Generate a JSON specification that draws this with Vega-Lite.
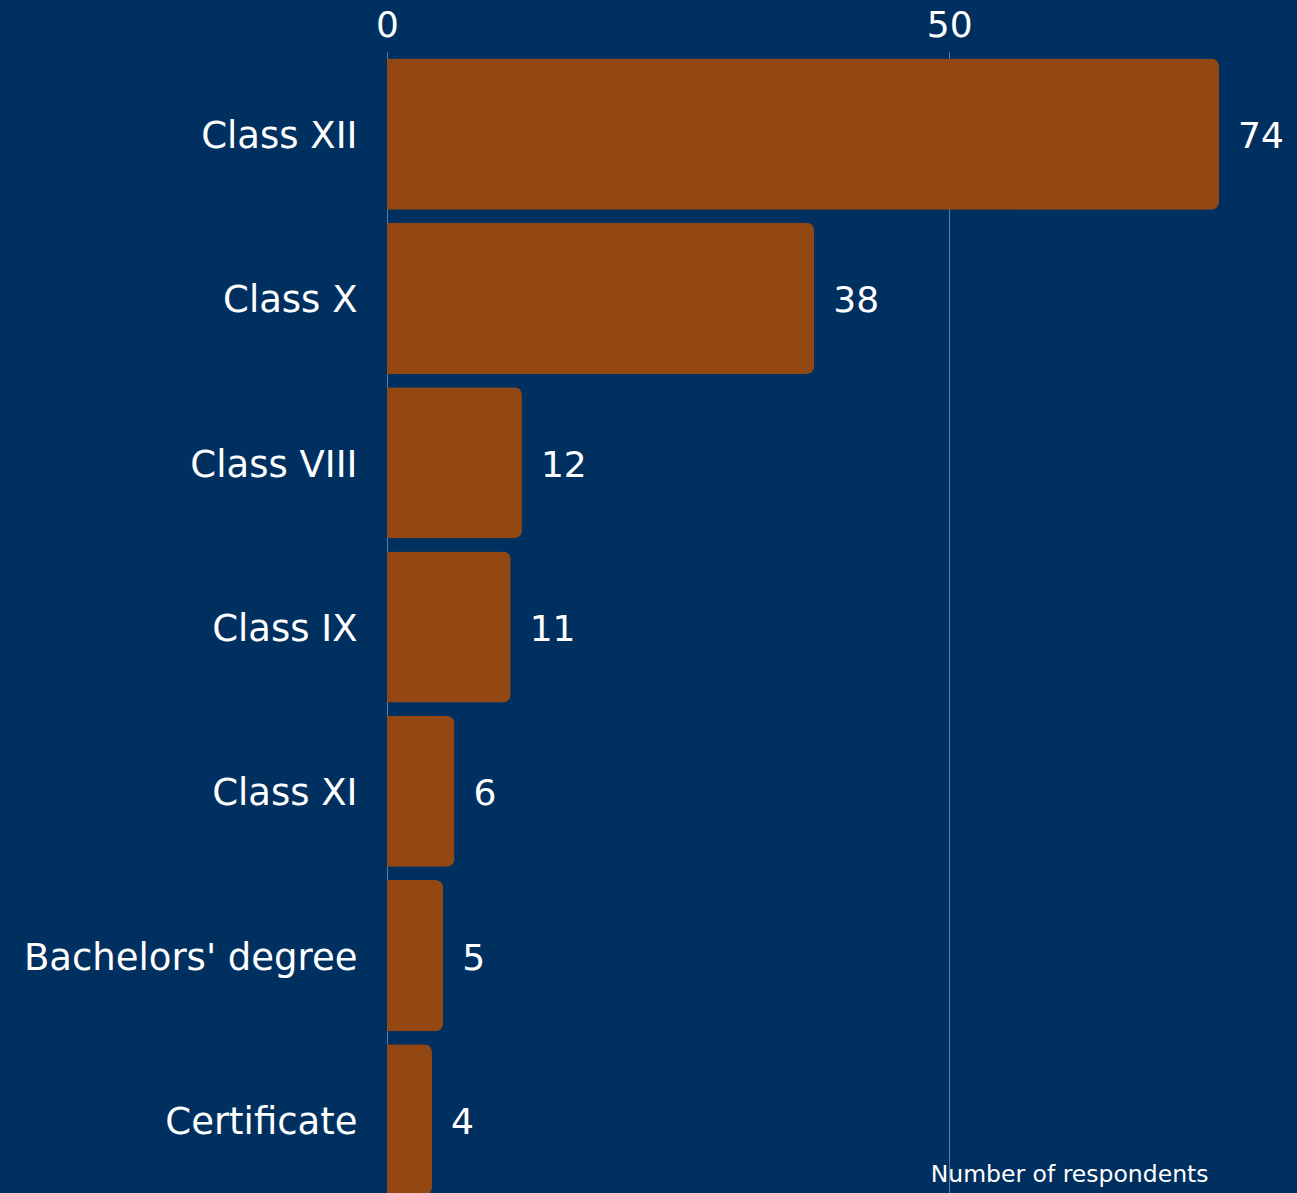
{
  "$schema": "https://vega.github.io/schema/vega-lite/v6.json",
  "autosize": {"type": "none"},
  "padding": {"left": 387, "top": 52, "right": 78, "bottom": 0},
  "width": 832,
  "height": 1150,
  "background": "#00305F",
  "config": {
    "view": {"stroke": null},
    "font": "DejaVu Sans"
  },
  "data": {
    "values": [
      {"level": "Class XII", "count": 74},
      {"level": "Class X", "count": 38},
      {"level": "Class VIII", "count": 12},
      {"level": "Class IX", "count": 11},
      {"level": "Class XI", "count": 6},
      {"level": "Bachelors' degree", "count": 5},
      {"level": "Certificate", "count": 4}
    ]
  },
  "encoding": {
    "y": {
      "field": "level",
      "type": "nominal",
      "sort": null,
      "scale": {"paddingInner": 0.08, "paddingOuter": 0.04},
      "axis": {
        "title": null,
        "domain": false,
        "ticks": false,
        "labelPadding": 30,
        "labelOffset": 3,
        "labelLimit": 0,
        "labelFontSize": 37,
        "labelColor": "#ffffff",
        "labelFont": "DejaVu Sans"
      }
    },
    "x": {
      "field": "count",
      "type": "quantitative",
      "scale": {"domain": [0, 74], "nice": false},
      "axis": {
        "orient": "top",
        "values": [0, 50],
        "title": "Number of respondents",
        "titleColor": "#ffffff",
        "titleFontSize": 23.5,
        "titleFontWeight": "normal",
        "titleFont": "DejaVu Sans",
        "titleAnchor": null,
        "titleAlign": "right",
        "titleBaseline": "alphabetic",
        "titleX": 821,
        "titleY": 1129,
        "domain": false,
        "ticks": false,
        "labelFlush": false,
        "labelOverlap": false,
        "labelPadding": 8,
        "labelFontSize": 36,
        "labelColor": "#ffffff",
        "labelFont": "DejaVu Sans",
        "grid": true,
        "gridColor": "#5a7ca6",
        "gridWidth": 1
      }
    }
  },
  "layer": [
    {
      "mark": {"type": "bar", "color": "#934814", "cornerRadiusEnd": 8}
    },
    {
      "mark": {"type": "text", "align": "left", "baseline": "middle", "dx": 19, "dy": 3, "fontSize": 36, "color": "#ffffff", "font": "DejaVu Sans"},
      "encoding": {"text": {"field": "count", "type": "quantitative"}}
    }
  ]
}
